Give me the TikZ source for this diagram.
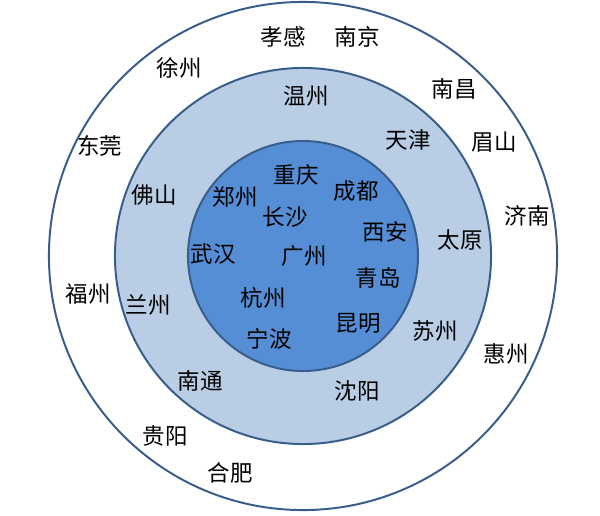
\documentclass[tikz,border=0pt]{standalone}
\usepackage{fontspec}
\usepackage{tikz}
\newfontfamily\cjk{Noto Sans CJK SC}
\definecolor{ringline}{RGB}{56,93,138}
\definecolor{ringmid}{RGB}{185,205,229}
\definecolor{ringin}{RGB}{85,142,213}

\begin{document}
\begin{tikzpicture}[x=0.025cm,y=-0.025cm,
    city/.style={font=\cjk\fontsize{16}{19}\selectfont,inner sep=0,text=black}]
    \useasboundingbox (0,0) rectangle (600,515);
    \coordinate (O) at (303,256);

    \draw[ringline,line width=1.4pt,fill=white] (O) circle (6.35cm);
    \draw[ringline,line width=1.4pt,fill=ringmid] (O) circle (4.7cm);
    \draw[ringline,line width=1.4pt,fill=ringin] (O) circle (2.875cm);

    \node[city] (xiaogan) at (283,37) {孝感};
    \node[city] (nanjing) at (357,37) {南京};
    \node[city] (xuzhou) at (179,68) {徐州};
    \node[city] (nanchang) at (454,89) {南昌};
    \node[city] (dongguan) at (100,146) {东莞};
    \node[city] (meishan) at (494,142) {眉山};
    \node[city] (jinan) at (527,216) {济南};
    \node[city] (fuzhou) at (88,294) {福州};
    \node[city] (huizhou) at (506,354) {惠州};
    \node[city] (guiyang) at (165,436) {贵阳};
    \node[city] (hefei) at (230,473) {合肥};

    \node[city] (wenzhou) at (306,96) {温州};
    \node[city] (tianjin) at (408,140) {天津};
    \node[city] (foshan) at (154,195) {佛山};
    \node[city] (taiyuan) at (460,240) {太原};
    \node[city] (lanzhou) at (148,305) {兰州};
    \node[city] (suzhou) at (435,331) {苏州};
    \node[city] (nantong) at (200,381) {南通};
    \node[city] (shenyang) at (357,391) {沈阳};

    \node[city] (chongqing) at (296,175) {重庆};
    \node[city] (zhengzhou) at (235,197) {郑州};
    \node[city] (chengdu) at (356,191) {成都};
    \node[city] (changsha) at (285,217) {长沙};
    \node[city] (xian) at (385,232) {西安};
    \node[city] (wuhan) at (213,254) {武汉};
    \node[city] (guangzhou) at (304,256) {广州};
    \node[city] (qingdao) at (378,278) {青岛};
    \node[city] (hangzhou) at (263,298) {杭州};
    \node[city] (kunming) at (358,323) {昆明};
    \node[city] (ningbo) at (269,339) {宁波};
\end{tikzpicture}
\end{document}
